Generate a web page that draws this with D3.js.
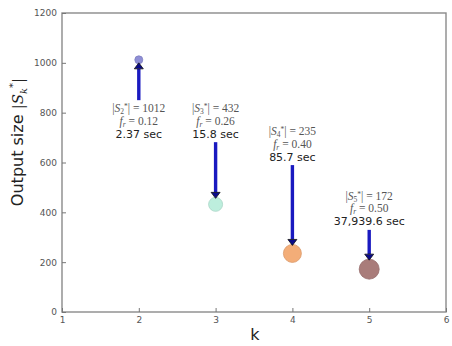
<!DOCTYPE html>
<html><head><meta charset="utf-8">
<script src="https://cdn.jsdelivr.net/npm/d3@7"></script>
<style>body{margin:0;background:#fff}svg{display:block}</style>
</head><body>
<script>
// ---- data ----
const ks = [2, 3, 4, 5];
const outputSizes = [1012, 432, 235, 172];
const fRatios = ["0.12", "0.26", "0.40", "0.50"];
const times = ["2.37 sec", "15.8 sec", "85.7 sec", "37,939.6 sec"];
const pointColors = ["#8f8fd6", "#bdeedd", "#f3ad78", "#a97c7a"];
const pointRadii = [4, 7, 9, 10];
const xTicks = [1, 2, 3, 4, 5, 6];
const yTicks = [0, 200, 400, 600, 800, 1000, 1200];
// annotation text anchor (data units, first line baseline) and direction
const labelY = [802, 802, 710, 450];
const arrowUp = [true, false, false, false];

const W = 452, H = 346;
const svg = d3.select("body").append("svg").attr("width", W).attr("height", H);
const x = d3.scaleLinear().domain([1, 6]).range([62, 446]);
const y = d3.scaleLinear().domain([0, 1200]).range([312, 13]);

// frame
svg.append("rect").attr("x", 62).attr("y", 13).attr("width", 384).attr("height", 299)
  .attr("fill", "none").attr("stroke", "#8a8a8a").attr("stroke-width", 1.4);

const xa = svg.append("g").attr("transform", "translate(0,312)")
  .call(d3.axisBottom(x).tickValues(xTicks).tickFormat(d3.format("d")).tickSizeInner(-4).tickSizeOuter(0).tickPadding(5));
const ya = svg.append("g").attr("transform", "translate(62,0)")
  .call(d3.axisLeft(y).tickValues(yTicks).tickFormat(d3.format("d")).tickSizeInner(-4).tickSizeOuter(0).tickPadding(5));
[xa, ya].forEach(a => {
  a.select(".domain").remove();
  a.selectAll("line").attr("stroke", "#777");
  a.selectAll("text").attr("font-family", "DejaVu Sans").attr("font-size", 9).attr("fill", "#555");
});

// axis labels
svg.append("text").attr("x", 255).attr("y", 340).attr("text-anchor", "middle")
  .attr("font-family", "DejaVu Sans").attr("font-size", 16).attr("fill", "#222").text("k");
const yl = svg.append("text").attr("transform", "translate(23,142) rotate(-90)").attr("text-anchor", "middle")
  .attr("font-family", "DejaVu Sans").attr("font-size", 16).attr("fill", "#222");
yl.append("tspan").text("Output size ");
yl.append("tspan").attr("font-family", "DejaVu Serif").attr("font-size", 15).text("|");
yl.append("tspan").attr("font-family", "DejaVu Serif").attr("font-style", "italic").attr("font-size", 15).text("S");
yl.append("tspan").attr("font-family", "DejaVu Serif").attr("font-style", "italic").attr("font-size", 10).attr("dy", 4).text("k");
yl.append("tspan").attr("font-family", "DejaVu Serif").attr("font-size", 10).attr("dy", -11).text("*");
yl.append("tspan").attr("font-family", "DejaVu Serif").attr("font-size", 15).attr("dy", 7).text("|");

// points
svg.append("g").selectAll("circle").data(ks).join("circle")
  .attr("cx", d => x(d)).attr("cy", (d, i) => y(outputSizes[i]))
  .attr("r", (d, i) => pointRadii[i]).attr("fill", (d, i) => pointColors[i])
  .attr("stroke", (d, i) => d3.color(pointColors[i]).darker(0.3)).attr("stroke-width", 0.8);

// annotations
const ann = svg.append("g");
ks.forEach((k, i) => {
  const cx = x(k), ty = y(labelY[i]);
  const g = ann.append("g");
  const t1 = g.append("text").attr("x", cx).attr("y", ty).attr("text-anchor", "middle")
    .attr("font-family", "Liberation Serif").attr("font-size", 11.5).attr("fill", "#555");
  t1.append("tspan").text("|");
  t1.append("tspan").attr("font-style", "italic").text("S");
  t1.append("tspan").attr("font-size", 7.5).attr("dy", 2).text(k);
  t1.append("tspan").attr("font-size", 7.5).attr("dy", -5).text("*");
  t1.append("tspan").attr("dy", 3).text("| = " + outputSizes[i]);
  const t2 = g.append("text").attr("x", cx).attr("y", ty + 12.5).attr("text-anchor", "middle")
    .attr("font-family", "Liberation Serif").attr("font-size", 11.5).attr("fill", "#555");
  t2.append("tspan").attr("font-style", "italic").text("f");
  t2.append("tspan").attr("font-style", "italic").attr("font-size", 7.5).attr("dy", 2).text("r");
  t2.append("tspan").attr("dy", -2).text(" = " + fRatios[i]);
  g.append("text").attr("x", cx).attr("y", ty + 25.5).attr("text-anchor", "middle")
    .attr("font-family", "DejaVu Sans").attr("font-size", 11).attr("fill", "#222").text(times[i]);

  const py = y(outputSizes[i]), r = pointRadii[i];
  let tail, tip;
  if (arrowUp[i]) { tail = ty - 12; tip = py + r - 1; }
  else { tail = ty + 30; tip = py - r + 1; }
  const dir = tip > tail ? 1 : -1;
  const headLen = 6, headW = 4.5;
  g.append("line").attr("x1", cx).attr("x2", cx).attr("y1", tail).attr("y2", tip - dir * headLen)
    .attr("stroke", "#1a1ac0").attr("stroke-width", 3.4);
  g.append("path")
    .attr("d", `M${cx - headW},${tip - dir * headLen} L${cx + headW},${tip - dir * headLen} L${cx},${tip} Z`)
    .attr("fill", "#0a0a8a").attr("stroke", "#111").attr("stroke-width", 0.8);
});
</script>
</body></html>
